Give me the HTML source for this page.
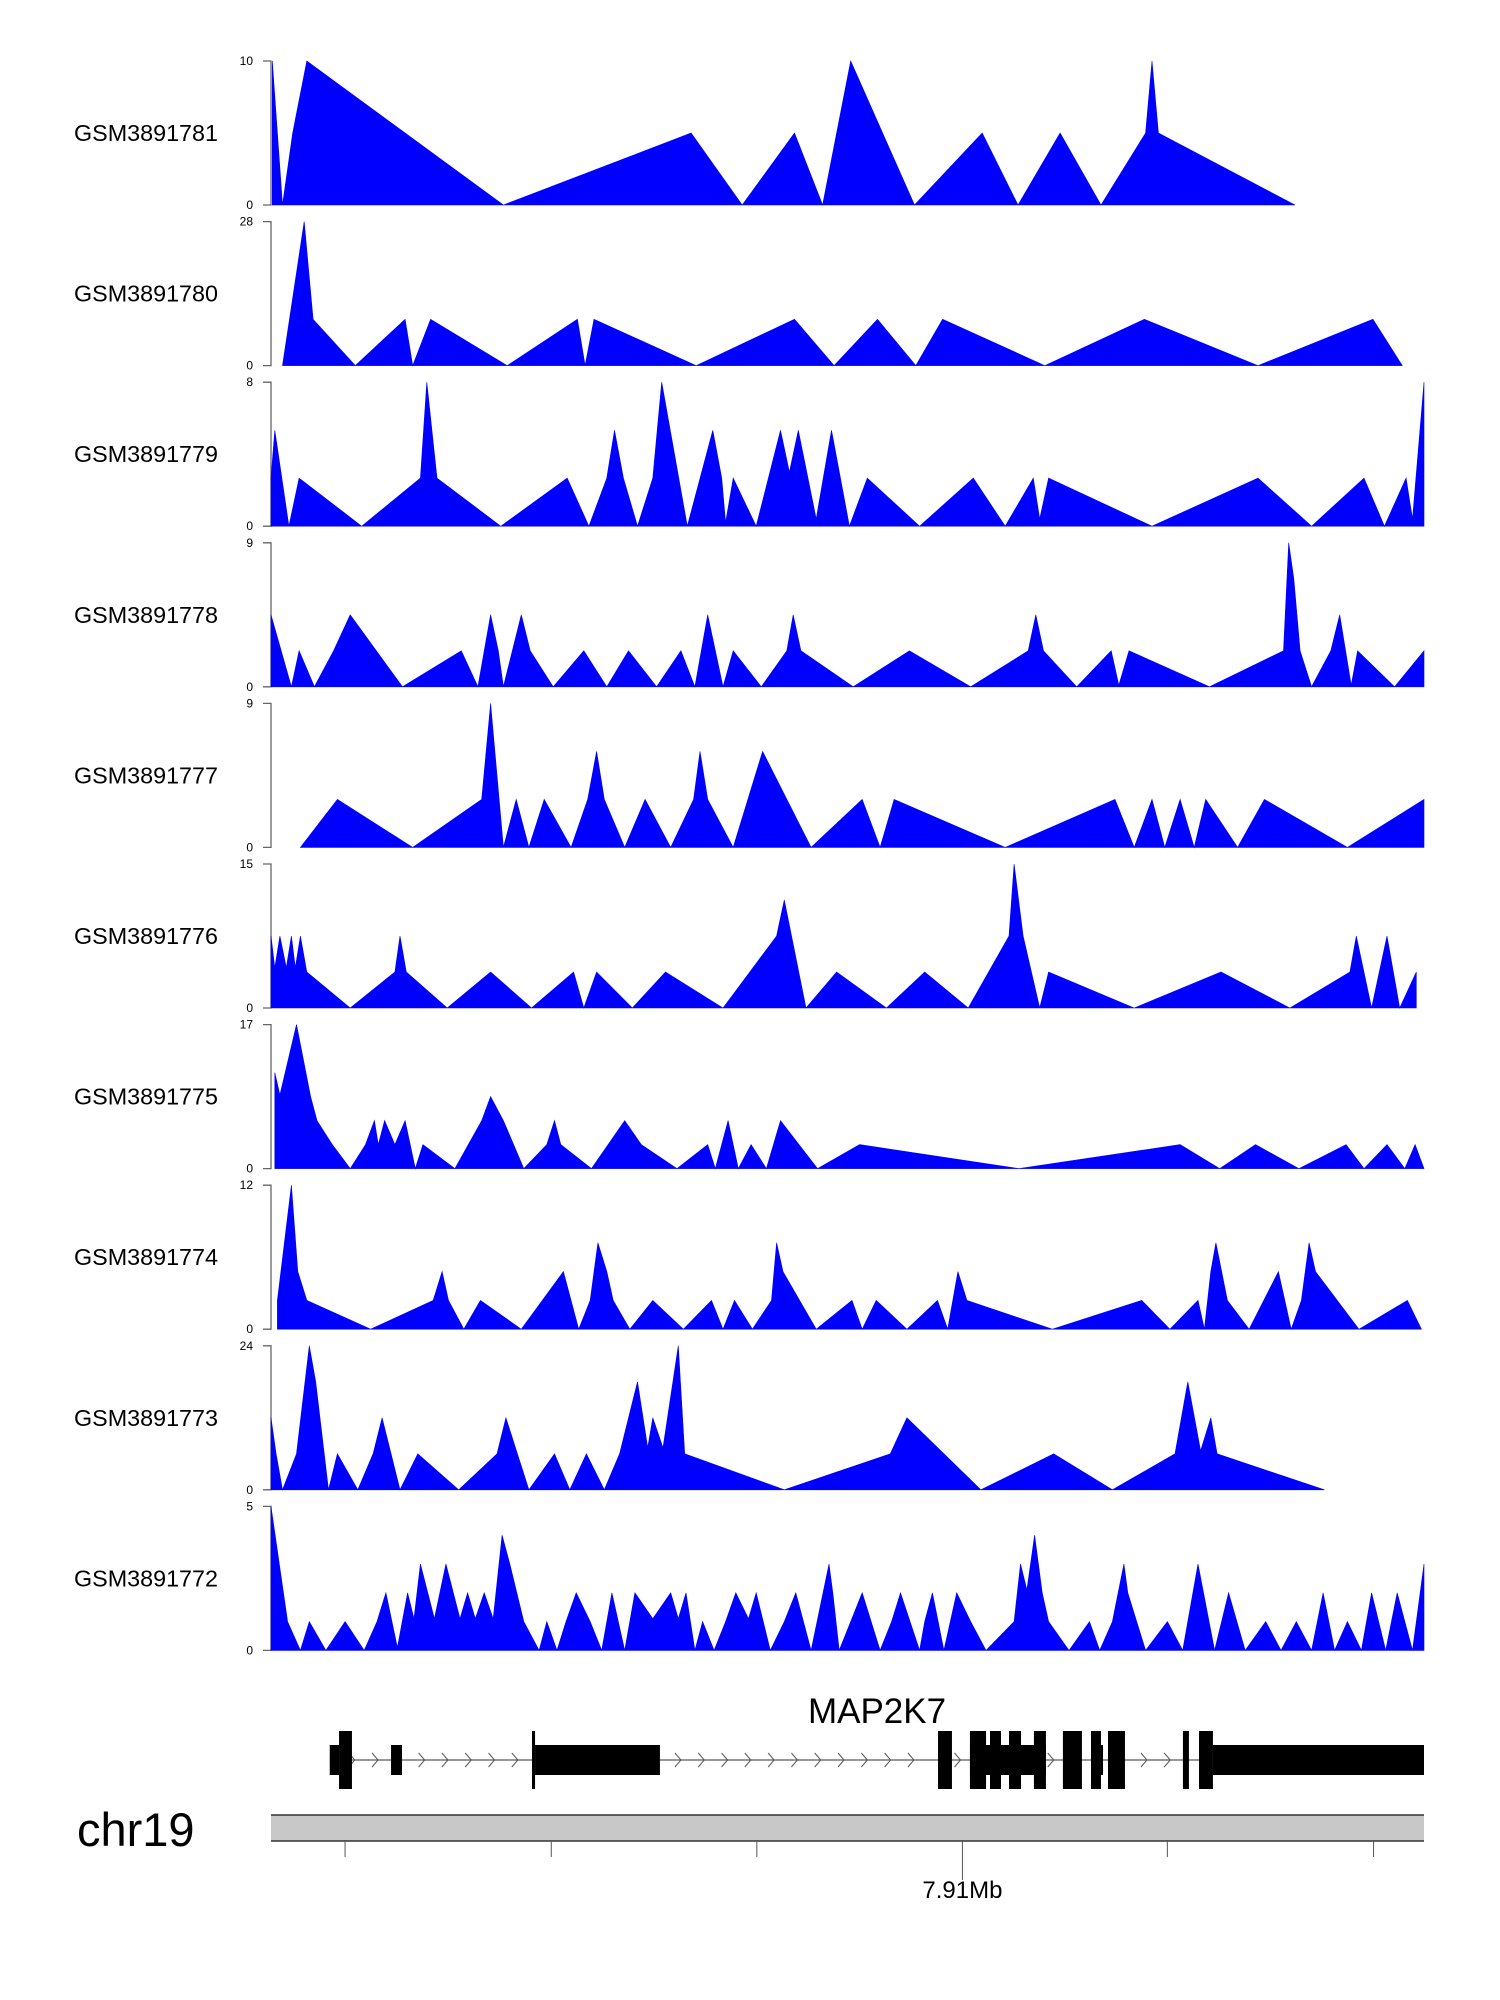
<!DOCTYPE html>
<html><head><meta charset="utf-8"><style>
html,body{margin:0;padding:0;background:#fff;}
svg{display:block;font-family:"Liberation Sans",Arial,sans-serif;}
</style></head><body>
<svg id="chart" width="1500" height="2000" viewBox="0 0 1500 2000" xmlns="http://www.w3.org/2000/svg">
<g id="tracks"></g>
<g id="gene"></g>
<g id="ideo"></g>
</svg>
<script>
// ---- data (positions in window units of ~12.4 bp, window = 0..903) ----
const sampleNames = ["GSM3891781","GSM3891780","GSM3891779","GSM3891778","GSM3891777","GSM3891776","GSM3891775","GSM3891774","GSM3891773","GSM3891772"];
const yMaxes = [10,28,8,9,9,15,17,12,24,5];

const pos1 = [1,9,17,28,182,329,369,410,432,454,504,557,585,618,650,685,690,695,802];
const val1 = [10,0,5,10,0,5,0,5,0,10,0,5,0,5,0,5,10,5,0];

const pos2 = [9,26,33,66,105,111,125,185,240,246,253,333,410,441,475,505,526,606,684,773,863,886];
const val2 = [0,28,9,0,9,0,9,0,9,0,9,0,9,0,9,0,9,0,9,0,9,0];

const pos3 = [0,3,14,22,71,117,122,130,180,232,249,263,269,276,287,299,306,326,346,353,356,362,380,399,406,413,427,439,453,467,508,550,575,597,602,609,690,773,815,856,872,889,894,903];
const val3 = [2.67,5.33,0,2.67,0,2.67,8,2.67,0,2.67,0,2.67,5.33,2.67,0,2.67,8,0,5.33,2.67,0.2,2.67,0,5.33,3,5.33,0.4,5.33,0,2.67,0,2.67,0,2.67,0.4,2.67,0,2.67,0,2.67,0,2.67,0.4,8];

const pos4 = [0,16,22,34,49,62,103,149,162,172,178,182,196,203,221,245,263,280,302,321,332,342,354,362,384,404,409,415,456,500,548,593,599,605,631,658,664,672,735,793,797,801,806,815,830,837,846,851,880,903];
const val4 = [4.5,0,2.25,0,2.25,4.5,0,2.25,0,4.5,2.25,0,4.5,2.25,0,2.25,0,2.25,0,2.25,0,4.5,0,2.25,0,2.25,4.5,2.25,0,2.25,0,2.25,4.5,2.25,0,2.25,0.1,2.25,0,2.25,9,6.75,2.25,0,2.25,4.5,0.1,2.25,0,2.25];

const pos5 = [23,52,111,165,172,182,192,202,214,235,248,255,261,277,293,313,331,336,342,362,385,423,463,477,488,575,661,676,690,700,712,723,732,757,778,843,903];
const val5 = [0,3,0,3,9,0,3,0,3,0,3,6,3,0,3,0,3,6,3,0,6,0,3,0,3,0,3,0,3,0,3,0,3,0,3,0,3];

const pos6 = [0,3,7,12,16,19,23,28,62,97,101,106,138,172,204,237,245,255,283,309,354,396,402,419,443,482,512,546,578,582,589,602,609,676,744,798,845,850,862,874,884,897];
const val6 = [7.5,4.2,7.5,4.2,7.5,4.2,7.5,3.75,0,3.75,7.5,3.75,0,3.75,0,3.75,0,3.75,0,3.75,0,7.5,11.25,0,3.75,0,3.75,0,7.5,15,7.5,0,3.75,0,3.75,0,3.75,7.5,0,7.5,0,3.75];

const pos7 = [3,7,20,31,36,48,62,74,81,84,89,97,105,113,119,144,165,172,182,198,216,222,227,251,277,290,318,342,348,358,366,376,388,399,428,461,586,712,743,771,805,842,856,874,888,896,903];
const val7 = [11.33,8.7,17,8.5,5.67,2.83,0,2.83,5.67,2.83,5.67,2.83,5.67,0,2.83,0,5.67,8.5,5.67,0,2.83,5.67,2.83,0,5.67,2.83,0,2.83,0,5.67,0,2.83,0,5.67,0,2.83,0,2.83,0,2.83,0,2.83,0,2.83,0,2.83,0];

const pos8 = [5,16,21,28,78,127,134,139,151,164,196,229,241,250,256,263,268,281,299,323,345,354,363,377,392,396,401,427,455,463,474,498,522,530,538,545,612,682,704,726,731,736,740,749,766,789,799,807,813,818,852,890,901];
const val8 = [2.4,12,4.8,2.4,0,2.4,4.8,2.4,0,2.4,0,4.8,0,2.4,7.2,4.8,2.4,0,2.4,0,2.4,0,2.4,0,2.4,7.2,4.8,0,2.4,0,2.4,0,2.4,0,4.8,2.4,0,2.4,0,2.4,0,4.8,7.2,2.4,0,4.8,0,2.4,7.2,4.8,0,2.4,0];

const pos9 = [0,4,9,20,30,35,45,52,68,80,87,101,115,147,177,184,202,222,234,247,261,273,287,295,299,307,319,324,402,485,498,556,613,659,708,718,728,736,741,825];
const val9 = [12,6,0,6,24,18,0,6,0,6,12,0,6,0,6,12,0,6,0,6,0,6,18,7,12,7,24,6,0,6,12,0,6,0,6,18,6.5,12,6,0];

const pos10 = [0,13,23,30,43,58,73,83,90,99,107,112,117,128,137,148,154,160,167,174,181,187,198,210,216,224,231,239,250,259,267,277,285,299,313,319,325,332,338,347,356,364,374,380,391,402,411,423,437,440,445,454,463,477,486,493,508,512,518,527,537,548,560,582,587,592,598,604,609,625,641,649,659,668,671,685,702,714,726,739,750,763,779,791,803,815,824,833,843,854,862,873,882,894,903];
const val10 = [5,1,0,1,0,1,0,1,2,0.1,2,1.1,3,1.1,3,1.1,2,1.1,2,1.1,4,3,1,0,1,0,1,2,1,0,2,0,2,1.1,2,1.1,2,0,1,0,1,2,1.1,2,0,1,2,0,3,2,0,1,2,0,1,2,0,1,2,0,2,1,0,1,3,2.1,4,2,1,0,1,0,1,3,2,0,1,0,3,0,2,0,1,0,1,0,2,0,1,0,2,0,2,0,3];

// gene model: exon segments [start, end, tall(1)/thin(0)]
const exonStarts = [46,53.3,94,204.4,206.8,522.4,547.4,547.4,563.1,578,597.5,620.2,642.2,650,655.5,714.2,726.8,737.7];
const exonEnds   = [53.3,63.4,102.6,206.8,304.6,533.3,606.9,560,571.7,587.4,606.9,635.1,650,651.6,668.8,718.9,737.7,903];
const exonTall   = [0,1,0,1,0,1,0,1,1,1,1,1,1,0,1,1,1,0];
const geneStart = 46, geneEnd = 903;
const axisTickPos = [58,219.5,380.5,541.5,702,863.5];
const axisTickLabels = ["","","","7.91Mb","",""];

const positions = [pos1,pos2,pos3,pos4,pos5,pos6,pos7,pos8,pos9,pos10];
const values = [val1,val2,val3,val4,val5,val6,val7,val8,val9,val10];

// ---- scales ----
const X0 = 271, X1 = 1424, DOMAIN = 903;
function xScale(v){ return X0 + v*(X1-X0)/DOMAIN; }
const TRACK_TOP0 = 61, TRACK_STEP = 160.6, TRACK_H = 144;
function trackTop(i){ return TRACK_TOP0 + TRACK_STEP*i; }
function yScale(v, i){ return trackTop(i) + TRACK_H - v/yMaxes[i]*TRACK_H; }

const NS = "http://www.w3.org/2000/svg";
function mk(tag, attrs, parent){
  const el = document.createElementNS(NS, tag);
  for (const k in attrs) el.setAttribute(k, attrs[k]);
  parent.appendChild(el);
  return el;
}

const tracks = document.getElementById('tracks');
for (let i=0;i<sampleNames.length;i++){
  const g = mk('g', {}, tracks);
  
  
  const top = trackTop(i), base = top + TRACK_H;
  const lab = mk('text', {x:74, y:top+TRACK_H/2+8, 'font-size':23, fill:'#000', textLength:144, lengthAdjust:'spacingAndGlyphs'}, g);
  lab.textContent = sampleNames[i];
  
  
  const ax = mk('path', {d:`M263,${top}H271V${base}H263`, stroke:'#666', 'stroke-width':1.3, fill:'none'}, g);
  
  
  const t1 = mk('text', {x:253, y:top+4, 'font-size':12, 'text-anchor':'end', fill:'#000'}, g);
  t1.textContent = String(yMaxes[i]);
  
  
  const t0 = mk('text', {x:253, y:base+4, 'font-size':12, 'text-anchor':'end', fill:'#000'}, g);
  t0.textContent = "0";
  
  
  const ps = positions[i], vs = values[i];
  let d = `M${xScale(ps[0]).toFixed(1)},${base}`;
  for (let j=0;j<ps.length;j++) d += `L${xScale(ps[j]).toFixed(1)},${yScale(vs[j],i).toFixed(1)}`;
  d += `L${xScale(ps[ps.length-1]).toFixed(1)},${base}Z`;
  const area = mk('path', {d:d, fill:'#0000FF', stroke:'#0000FF', 'stroke-width':0.6}, g);
  
  
}

// gene
const gene = document.getElementById('gene');
const GC = 1760;
const gl = mk('text', {x:877, y:1723, 'font-size':35, 'text-anchor':'middle', fill:'#000'}, gene);
gl.textContent = "MAP2K7";


const intr = mk('line', {x1:xScale(geneStart), x2:xScale(geneEnd), y1:GC, y2:GC, stroke:'#777', 'stroke-width':1.5}, gene);


for (let x = xScale(geneStart)+25; x < xScale(geneEnd); x += 23.3){
  let inside = false;
  for (let k=0;k<exonStarts.length;k++){
    if (x >= xScale(exonStarts[k])-6 && x <= xScale(exonEnds[k])+2) inside = true;
  }
  if (inside) continue;
  const c = mk('path', {d:`M${x-6},${GC-7}L${x},${GC}L${x-6},${GC+7}`, stroke:'#555', 'stroke-width':1, fill:'none'}, gene);
  
  
}
for (let k=0;k<exonStarts.length;k++){
  const tall = exonTall[k]===1;
  const h = tall ? 58 : 30;
  const r = mk('rect', {x:xScale(exonStarts[k]), y:GC-h/2, width:Math.max(1,xScale(exonEnds[k])-xScale(exonStarts[k])), height:h, fill:'#000'}, gene);
  
  
}

// chromosome axis
const ideo = document.getElementById('ideo');
const chr = mk('text', {x:77, y:1846, 'font-size':47, fill:'#000'}, ideo);
chr.textContent = "chr19";


const band = mk('rect', {x:271, y:1815, width:1153, height:26, fill:'#C8C8C8', stroke:'none'}, ideo);


const bl1 = mk('line', {x1:271, x2:1424, y1:1815, y2:1815, stroke:'#333', 'stroke-width':1.5}, ideo);


const bl2 = mk('line', {x1:271, x2:1424, y1:1841, y2:1841, stroke:'#333', 'stroke-width':1.5}, ideo);


for (let k=0;k<axisTickPos.length;k++){
  const x = xScale(axisTickPos[k]);
  const tk = mk('line', {x1:x, x2:x, y1:1841, y2: axisTickLabels[k] ? 1880 : 1857, stroke:'#555', 'stroke-width':1}, ideo);
  
  
  if (axisTickLabels[k]){
    const tl = mk('text', {x:x, y:1898, 'font-size':24, 'text-anchor':'middle', fill:'#000'}, ideo);
    tl.textContent = axisTickLabels[k];
    
    
  }
}
</script>
</body></html>
